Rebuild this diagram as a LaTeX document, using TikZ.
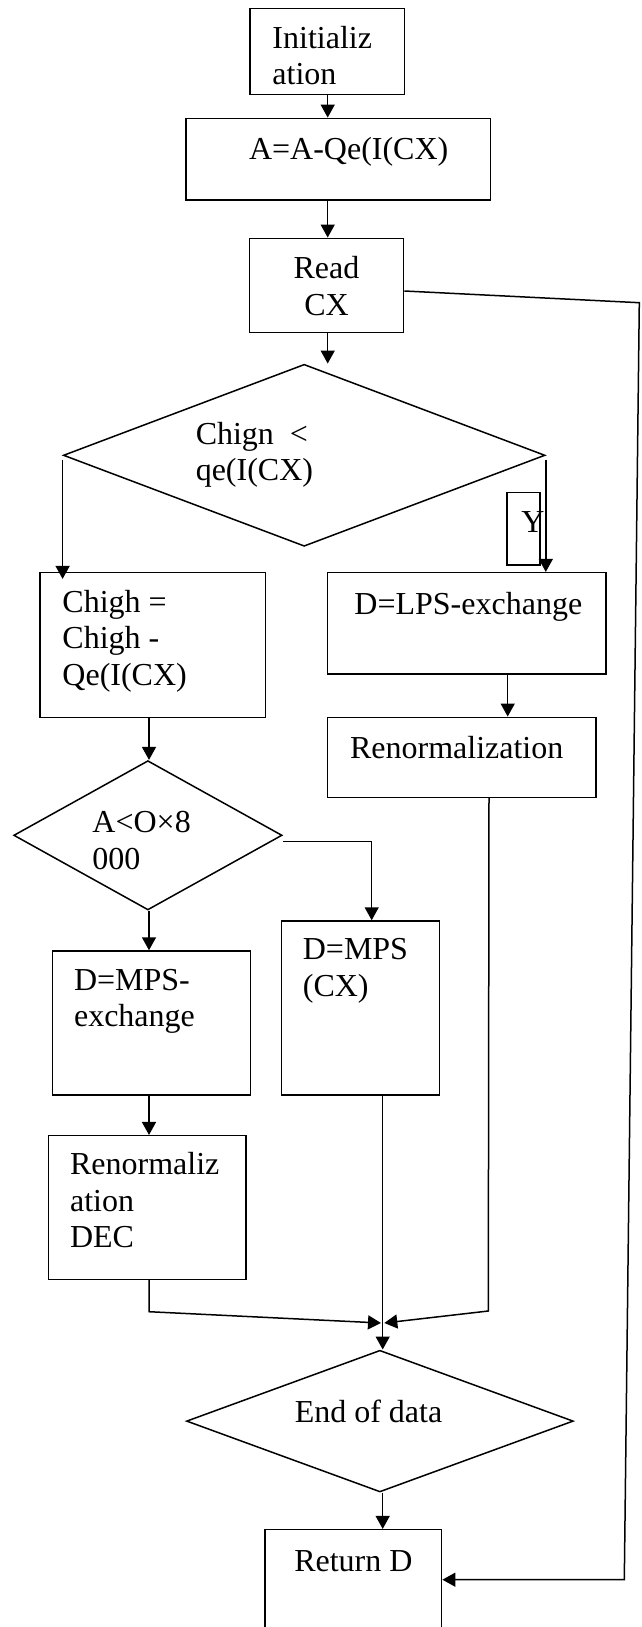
\documentclass[tikz,border=0pt]{standalone}
\usepackage{fontspec}
\setmainfont{Liberation Serif}
\usetikzlibrary{shapes.geometric,arrows.meta}
\begin{document}
\begin{tikzpicture}
          [x=1pt,y=-1pt,line width=1.5pt,font=\fontsize{32}{36.5}\selectfont,
           box/.style={draw, rectangle, inner sep=0pt},
           dia/.style={draw, diamond, inner sep=0pt},
           txt/.style={inner sep=0pt, align=left, anchor=base west},
           arr/.style={-{Triangle[length=13pt,width=14pt]}}]
        \useasboundingbox (0,0) rectangle (642,1627);
        \clip (0,0) rectangle (642,1627);

        % boxes and decisions
        \node[box, minimum width=154.3pt, minimum height=86pt] (init) at (327.2,51.3) {};
        \node[box, minimum width=304.3pt, minimum height=81.7pt] (calc) at (338.2,159.2) {};
        \node[box, minimum width=154.4pt, minimum height=94pt] (read) at (326.5,285.3) {};
        \node[dia, minimum width=481.7pt, minimum height=182pt] (dec1) at (304.2,455.3) {};
        \node[box, minimum width=33pt, minimum height=72.7pt] (ybox) at (523.5,528.7) {};
        \node[box, minimum width=225.7pt, minimum height=144.6pt] (chigh) at (152.8,645) {};
        \node[box, minimum width=278.3pt, minimum height=101.3pt] (lps) at (466.8,623.3) {};
        \node[box, minimum width=268.3pt, minimum height=80pt] (renA) at (461.8,757.3) {};
        \node[dia, minimum width=268.4pt, minimum height=149.3pt] (dec2) at (147.9,835.3) {};
        \node[box, minimum width=157.6pt, minimum height=174pt] (mps) at (360.5,1008) {};
        \node[box, minimum width=198pt, minimum height=144pt] (mpsx) at (151.7,1023) {};
        \node[box, minimum width=197.7pt, minimum height=143.6pt] (renB) at (147.2,1207.5) {};
        \node[dia, minimum width=386.8pt, minimum height=141.7pt] (dec3) at (379.9,1421.1) {};
        \node[box, minimum width=176.7pt, minimum height=150.3pt] (ret) at (353.3,1604.8) {};

        % texts (anchored at the baseline of their last line)
        \node[txt] (initT) at (271.7,84.9) {Initializ\\ation};
        \node[txt] (calcT) at (248.3,160) {A=A-Qe(I(CX)};
        \node[inner sep=0pt, align=center, anchor=base] (readT) at (326.5,315) {Read\\CX};
        \node[txt] (dec1T) at (195,480.8) {Chign\ \ <\\qe(I(CX)};
        \node[txt] (yT) at (520.5,532.7) {Y};
        \node[txt] (chighT) at (61.7,685) {Chigh =\\Chigh -\\Qe(I(CX)};
        \node[txt] (lpsT) at (353.7,614.3) {D=LPS-exchange};
        \node[txt] (renAT) at (349.3,758.3) {Renormalization};
        \node[txt] (dec2T) at (91.7,869) {A<O×8\\000};
        \node[txt] (mpsT) at (302.1,996.1) {D=MPS\\(CX)};
        \node[txt] (mpsxT) at (73.3,1026.7) {D=MPS-\\exchange};
        \node[txt] (renBT) at (69.3,1247.8) {Renormaliz\\ation\\DEC};
        \node[txt] (dec3T) at (294,1422) {End of data};
        \node[txt] (retT) at (293.5,1571) {Return D};

        \coordinate (rt) at (639.3,302.7);
        \coordinate (rb) at (624.3,1579.7);
        \coordinate (mrg) at (382.7,1323);

        \foreach \from/\to/\x in {init/calc/327.7, calc/read/327.7, read/dec1/327.7, chigh/dec2/149, dec2/mpsx/149, mpsx/renB/149, lps/renA/507.7, dec3/ret/382.7}
          \draw[arr] (\x,0 |- \from.south) -- (\x,0 |- \to.north);

        \draw[arr] ([yshift=-5pt]dec1.west) -- ([yshift=-7pt]dec1.west |- chigh.north);
        \draw[arr] ([yshift=-5pt]dec1.east) -- (dec1.east |- lps.north);
        \draw[arr] ([yshift=-6.4pt]dec2.east) -| ([xshift=11.2pt]mps.north);
        \draw[arr] (382.7,0 |- mps.south) -- (382.7,0 |- dec3.north);
        \draw[arr] (149,0 |- renB.south) -- (149,1311.7) -- ([xshift=-1.7pt]mrg);
        \draw[arr] (489,0 |- renA.south) -- (488.3,1311) -- ([xshift=1.6pt]mrg);
        \draw[arr] ([yshift=-5.7pt]read.east) -- (rt) -- (rb) -- (rb -| ret.east);
      \end{tikzpicture}
\end{document}
